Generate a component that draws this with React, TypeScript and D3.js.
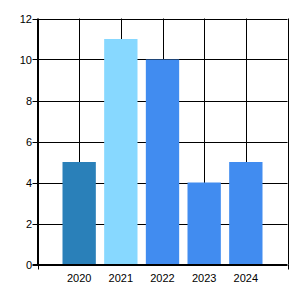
import React from "react";
import * as d3 from "d3";

const categories = ["2020", "2021", "2022", "2023", "2024"];
const values = [5, 11, 10, 4, 5];
const barColors = ["#2A80B9", "#87D8FF", "#418CF0", "#418CF0", "#418CF0"];
const yTicks = [0, 2, 4, 6, 8, 10, 12];

export default function App() {
  const W = 300, H = 300;
  const left = 37.5, right = 287.5, top = 18.5, bottom = 264.5;
  const x = d3.scaleLinear().domain([0, categories.length + 1]).range([left, right]);
  const y = d3.scaleLinear().domain([0, 12]).range([bottom, top]);
  const bw = (x(1) - x(0)) * 0.8;
  const font = "'Liberation Sans', Arial, sans-serif";
  const gridX = d3.range(0, categories.length + 2);
  return (
    <svg width={W} height={H} style={{ position: "absolute", left: 0, top: 0, background: "#fff" }}>
      {gridX.map((g) => (
        <line key={"gx" + g} x1={Math.round(x(g)) + 0.5} x2={Math.round(x(g)) + 0.5} y1={top} y2={bottom} stroke="#000" strokeWidth={1} />
      ))}
      {yTicks.map((t) => (
        <line key={"gy" + t} x1={left - 5} x2={right} y1={Math.round(y(t)) + 0.5} y2={Math.round(y(t)) + 0.5} stroke="#000" strokeWidth={1} />
      ))}
      {categories.map((c, i) => (
        <rect key={c} x={x(i + 1) - bw / 2} y={y(values[i])} width={bw} height={y(0) - y(values[i])} fill={barColors[i]} />
      ))}
      <line x1={left} x2={left} y1={top} y2={bottom} stroke="#000" />
      <line x1={left - 5} x2={right} y1={bottom} y2={bottom} stroke="#000" />
      {[0, categories.length + 1].map((g) => (
        <line key={"tk" + g} x1={Math.round(x(g)) + 0.5} x2={Math.round(x(g)) + 0.5} y1={bottom} y2={bottom + 5} stroke="#000" />
      ))}
      {yTicks.map((t) => (
        <text key={"yl" + t} x={32} y={y(t) + 4} textAnchor="end" fontFamily={font} fontSize={11} fill="#000">{t}</text>
      ))}
      {categories.map((c, i) => (
        <text key={"xl" + c} x={x(i + 1)} y={282} textAnchor="middle" fontFamily={font} fontSize={11} fill="#000">{c}</text>
      ))}
    </svg>
  );
}
